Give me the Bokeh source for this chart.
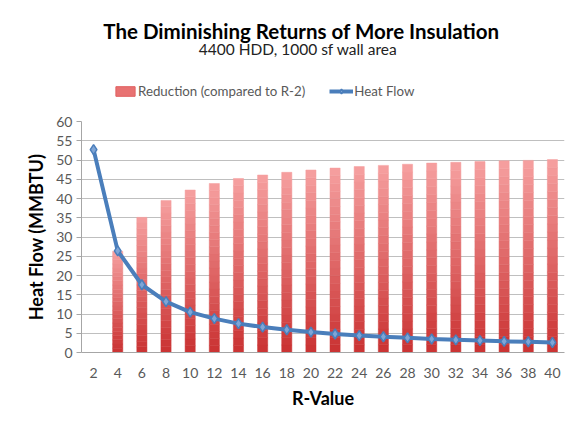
from bokeh.plotting import figure
from bokeh.layouts import column
from bokeh.models import (ColumnDataSource, Legend, LegendItem, Range1d,
                          Label)
from bokeh.embed import file_html
from bokeh.resources import INLINE

# data
r_values = ["2", "4", "6", "8", "10", "12", "14", "16", "18", "20",
            "22", "24", "26", "28", "30", "32", "34", "36", "38", "40"]
heat_flow = [52.7, 26.4, 17.6, 13.2, 10.5, 8.8, 7.5, 6.6, 5.9, 5.3,
             4.8, 4.4, 4.1, 3.8, 3.5, 3.3, 3.1, 2.9, 2.8, 2.6]
reduction = [0.0, 26.3, 35.1, 39.5, 42.2, 43.9, 45.2, 46.1, 46.8, 47.4,
             47.9, 48.3, 48.6, 48.9, 49.2, 49.4, 49.6, 49.8, 49.9, 50.1]

FONT = "Lato"
GREY = "#595959"
BLUE = "#4a7ebb"

# header: title, subtitle and legend
head = figure(width=580, height=113, x_range=Range1d(0, 580),
              y_range=Range1d(0, 113), output_backend="svg",
              toolbar_location=None, min_border=0)
head.axis.visible = False
head.grid.visible = False
head.outline_line_color = None
head.add_layout(Label(x=264, y=83, text="The Diminishing Returns of More Insulation",
                      text_font=FONT, text_font_size="20.5px", text_font_style="bold",
                      text_align="center", text_baseline="middle", text_color="black"))
head.add_layout(Label(x=260, y=65, text="4400 HDD, 1000 sf wall area",
                      text_font=FONT, text_font_size="15.5px",
                      text_align="center", text_baseline="middle", text_color="#222222"))

# legend-only renderers, their data sits outside the visible header range
bar_key = head.vbar(x=[-50], top=[-50], width=1, fill_color="#e87272",
                    line_color="#e06060")
line_key = head.line(x=[-60, -50], y=[-50, -50], line_color=BLUE, line_width=4)
mark_key = head.scatter(x=[-50], y=[-50], marker="diamond", size=10,
                        fill_color="#7fa5d6", line_color=BLUE, line_width=1.5)
legend = Legend(items=[
    LegendItem(label="Reduction (compared to R-2)", renderers=[bar_key]),
    LegendItem(label="Heat Flow", renderers=[line_key, mark_key]),
], orientation="horizontal", location=(32, 14))
legend.label_text_font = FONT
legend.label_text_font_size = "13.3px"
legend.label_text_color = GREY
legend.border_line_color = None
legend.background_fill_alpha = 0
legend.glyph_width = 24
legend.glyph_height = 12
legend.spacing = 24
legend.label_standoff = 1
legend.margin = 0
legend.padding = 0
head.add_layout(legend, "center")

# main chart
p = figure(x_range=r_values, y_range=Range1d(0, 60), width=580, height=320,
           output_backend="svg", toolbar_location=None,
           min_border_left=81, min_border_right=16, min_border_bottom=81,
           min_border_top=8)
p.outline_line_color = None

# gradient bars: each bar drawn as stacked slices, light at top, dark at bottom
n_slices = 24
top_rgb = (245, 158, 158)
bot_rgb = (203, 52, 52)
xs, bots, tops, cols = [], [], [], []
for r, h in zip(r_values, reduction):
    if h <= 0:
        continue
    for i in range(n_slices):
        f = i / (n_slices - 1)
        c = tuple(int(b + (t - b) * f) for b, t in zip(bot_rgb, top_rgb))
        xs.append(r)
        bots.append(h * i / n_slices)
        tops.append(h * (i + 1) / n_slices)
        cols.append("#%02x%02x%02x" % c)
bar_src = ColumnDataSource(dict(x=xs, bottom=bots, top=tops, color=cols))
p.vbar(x="x", bottom="bottom", top="top", width=0.42, source=bar_src,
       fill_color="color", line_color="color", line_width=0.5)

src = ColumnDataSource(dict(x=r_values, y=heat_flow))
p.line("x", "y", source=src, line_color=BLUE, line_width=4)
p.scatter("x", "y", source=src, marker="diamond", size=10,
          fill_color="#7fa5d6", line_color=BLUE, line_width=1.5)

# axes
p.xgrid.grid_line_color = None
p.ygrid.grid_line_color = "#bfbfbf"
p.yaxis.ticker = list(range(0, 61, 5))
for ax in (p.xaxis[0], p.yaxis[0]):
    ax.axis_line_color = "#a6a6a6"
    ax.major_tick_line_color = "#a6a6a6"
    ax.minor_tick_line_color = None
    ax.major_label_text_font = FONT
    ax.major_label_text_font_size = "14px"
    ax.major_label_text_color = GREY
    ax.axis_label_text_font = FONT
    ax.axis_label_text_font_size = "18px"
    ax.axis_label_text_font_style = "bold"
    ax.axis_label_text_color = "black"
p.yaxis.major_tick_in = 0
p.yaxis.major_tick_out = 5
p.xaxis.major_tick_line_color = None
p.xaxis.major_label_standoff = 9
p.yaxis.major_label_standoff = 4
p.xaxis.axis_label = "R-Value"
p.yaxis.axis_label = "Heat Flow (MMBTU)"
p.xaxis.axis_label_standoff = 6
p.yaxis.axis_label_standoff = 6

layout = column(head, p, spacing=0)
open("out.html", "w").write(file_html(layout, INLINE))
